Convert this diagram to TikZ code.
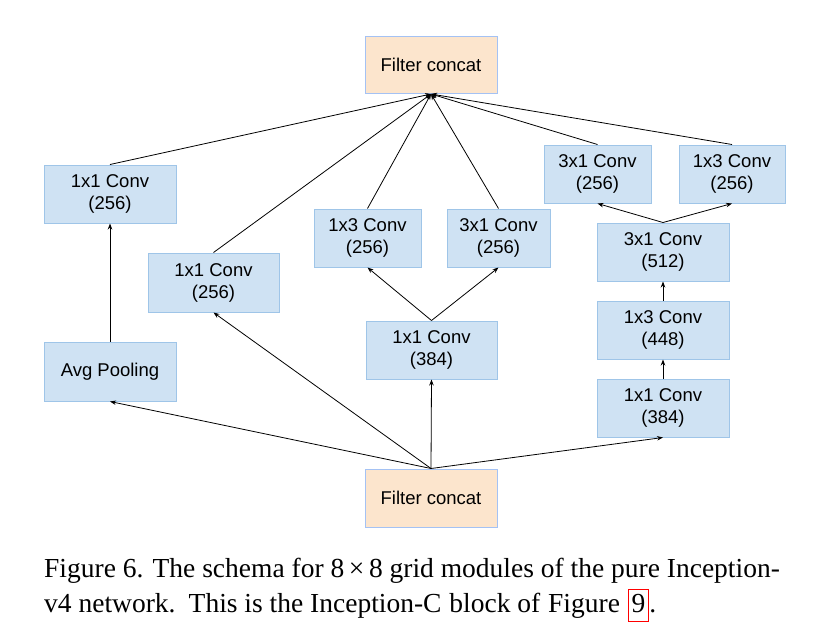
\documentclass[tikz,border=0pt]{standalone}
\usepackage{fontspec}
\setmainfont{Liberation Serif}
\newfontfamily\arial{Liberation Sans}
\usetikzlibrary{arrows.meta}
\definecolor{convfill}{HTML}{CFE2F3}
\definecolor{convline}{HTML}{9FC5E8}
\definecolor{catfill}{HTML}{FCE5CD}
\definecolor{catline}{HTML}{A4C2F4}
\tikzset{
  box/.style={draw=convline, fill=convfill, line width=1pt, inner sep=0pt, align=center,
    font=\arial\fontsize{18.5}{22}\selectfont, text=black},
  conv/.style={box, minimum width=#1},
  conv/.default=132pt,
  cat/.style={box, fill=catfill, draw=catline, minimum width=132pt, minimum height=57pt},
  link/.style={line width=0.8pt, -{Stealth[length=6pt,width=4.5pt]}},
  captxt/.style={inner sep=0pt, anchor=base west, font=\fontsize{27.5}{30}\selectfont}
}
\begin{document}
\begin{tikzpicture}[x=1pt,y=-1pt]
\useasboundingbox (0,0) rectangle (830,638);
\node[cat] (top) at (431,65) {Filter concat};
\node[cat, minimum height=58pt] (bot) at (431,498) {Filter concat};
\node[conv, minimum height=58pt] (c1) at (110,194) {1x1 Conv\\(256)};
\node[conv=131pt, minimum height=59pt] (c2) at (213.5,282.5) {1x1 Conv\\(256)};
\node[conv, minimum height=59pt] (avg) at (110,371.5) {Avg Pooling};
\node[conv=107pt, minimum height=58pt] (c13m) at (367.5,238) {1x3 Conv\\(256)};
\node[conv=103pt, minimum height=58pt] (c31m) at (498.5,238) {3x1 Conv\\(256)};
\node[conv=131pt, minimum height=58pt] (c384m) at (431.5,350) {1x1 Conv\\(384)};
\node[conv=107pt, minimum height=58pt] (c31r) at (597.5,174) {3x1 Conv\\(256)};
\node[conv=106pt, minimum height=58pt] (c13r) at (732,174) {1x3 Conv\\(256)};
\node[conv, minimum height=58pt] (c512) at (663,252) {3x1 Conv\\(512)};
\node[conv, minimum height=58pt] (c448) at (663,330) {1x3 Conv\\(448)};
\node[conv, minimum height=58pt] (c384r) at (663,408) {1x1 Conv\\(384)};
% from bottom concat
\draw[link] (bot.north) -- (avg.south);
\draw[link] (bot.north) -- (c2.south);
\draw[link] (bot.north) -- (c384m.south);
\draw[link] (bot.north) -- (c384r.south);
% inner
\draw[link] (avg.north) -- (c1.south);
\draw[link] (c384m.north) -- (c13m.south);
\draw[link] (c384m.north) -- (c31m.south);
\draw[link] (c384r.north) -- (c448.south);
\draw[link] (c448.north) -- (c512.south);
\draw[link] (c512.north) -- (c31r.south);
\draw[link] (c512.north) -- (c13r.south);
% to top concat
\draw[link] (c1.north) -- (top.south);
\draw[link] (c2.north) -- (top.south);
\draw[link] (c13m.north) -- (top.south);
\draw[link] (c31m.north) -- (top.south);
\draw[link] (c31r.north) -- (top.south);
\draw[link] (c13r.north) -- (top.south);
% caption
\node[captxt] (l1) at (44,577) {Figure 6. The schema for 8\,×\,8 grid modules of the pure Inception-};
\node[captxt] (l2) at (44,612) {v4 network.\hspace{4pt} This is the Inception-C\hspace{1pt} block of\hspace{1pt} Figure};
\node[captxt, inner xsep=3.5pt, inner ysep=3pt, text height=20pt, text depth=6pt, draw=red, line width=0.8pt]
  (nine) at ([xshift=7.5pt]l2.base east) {9};
\node[captxt] (dot) at (nine.base east) {.};
\end{tikzpicture}
\end{document}
